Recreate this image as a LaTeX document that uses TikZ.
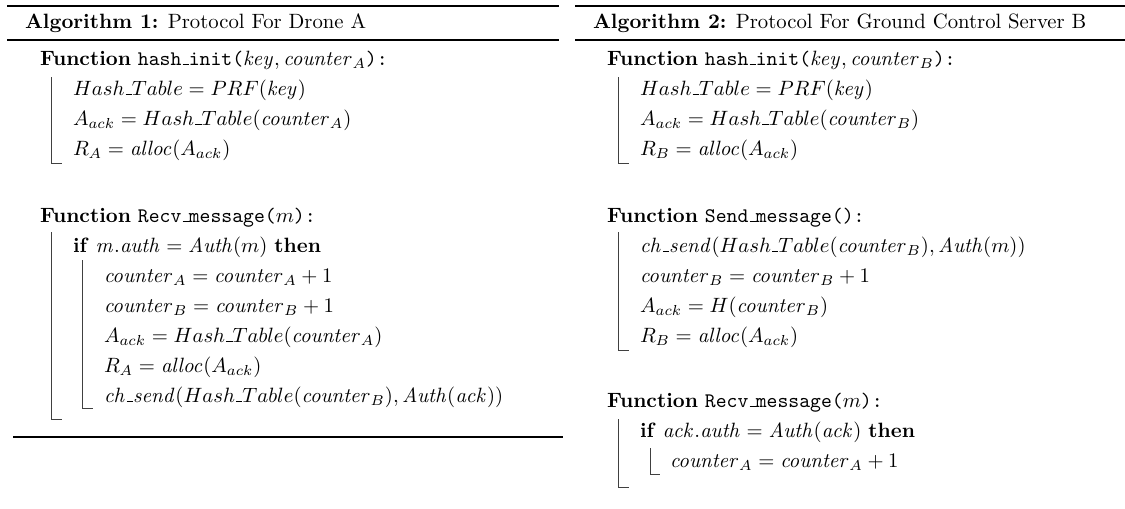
\documentclass[tikz,border=0pt]{standalone}
\usepackage{amsmath}
\tikzset{
  txt/.style={anchor=base west, inner sep=0pt, outer sep=0pt, font=\fontsize{10}{12}\selectfont},
  rulesty/.style={line width=0.85pt, black},
  brk/.style={line width=0.45pt, black!75},
}
\newcommand{\usc}{\leavevmode\kern.06em\vbox{\hrule width.3em}}
\newcommand{\HT}{Hash\mbox{\usc}Table}
\newcommand{\ctr}{\mathit{counter}}
\newcommand{\chs}{\mathit{ch}\mbox{\usc}\mathit{send}}
\begin{document}
\begin{tikzpicture}[x=0.483pt,y=-0.483pt]
\useasboundingbox (0,0) rectangle (1125,508);
% rules
\draw[rulesty] (7,6) -- (559,6);
\draw[rulesty] (7,40) -- (559,40);
\draw[rulesty] (13,437) -- (563,437);
\draw[rulesty] (575,6) -- (1125,6);
\draw[rulesty] (575,40) -- (1125,40);
% ---------- Algorithm 1
\node[txt] (t1) at (25,28) {\textbf{Algorithm 1:} Protocol For Drone A};
\node[txt] (f1) at (40,65) {\textbf{Function} \texttt{hash\usc init(}$\mathit{key},\ctr_A$\texttt{):}};
\node[txt] (a1) at (73,95) {$\HT = PRF(\mathit{key})$};
\node[txt] (a2) at (73,125) {$A_{ack} = \HT(\ctr_A)$};
\node[txt] (a3) at (73,155) {$R_A = \mathit{alloc}(A_{ack})$};
\draw[brk] (51,77) |- (62,163);
\node[txt] (f2) at (40,222) {\textbf{Function} \texttt{Recv\usc message(}$m$\texttt{):}};
\node[txt] (b1) at (73,252) {\textbf{if} $\mathit{m.auth} = \mathit{Auth}(m)$ \textbf{then}};
\node[txt] (b2) at (104,282) {$\ctr_A = \ctr_A + 1$};
\node[txt] (b3) at (104,312) {$\ctr_B = \ctr_B + 1$};
\node[txt] (b4) at (104,342) {$A_{ack} = \HT(\ctr_A)$};
\node[txt] (b5) at (104,372) {$R_A = \mathit{alloc}(A_{ack})$};
\node[txt] (b6) at (104,402) {$\chs(\HT(\ctr_B), \mathit{Auth}(\mathit{ack}))$};
\draw[brk] (51,232) |- (62,419);
\draw[brk] (82,260) |- (93,408);
% ---------- Algorithm 2
\node[txt] (t2) at (593,28) {\textbf{Algorithm 2:} Protocol For Ground Control Server B};
\node[txt] (g1) at (607,65) {\textbf{Function} \texttt{hash\usc init(}$\mathit{key},\ctr_B$\texttt{):}};
\node[txt] (c1) at (640,95) {$\HT = PRF(\mathit{key})$};
\node[txt] (c2) at (640,125) {$A_{ack} = \HT(\ctr_B)$};
\node[txt] (c3) at (640,155) {$R_B = \mathit{alloc}(A_{ack})$};
\draw[brk] (618,77) |- (629,163);
\node[txt] (g2) at (607,222) {\textbf{Function} \texttt{Send\usc message():}};
\node[txt] (d1) at (640,252) {$\chs(\HT(\ctr_B), \mathit{Auth}(m))$};
\node[txt] (d2) at (640,282) {$\ctr_B = \ctr_B + 1$};
\node[txt] (d3) at (640,312) {$A_{ack} = H(\ctr_B)$};
\node[txt] (d4) at (640,342) {$R_B = \mathit{alloc}(A_{ack})$};
\draw[brk] (618,232) |- (629,350);
\node[txt] (g3) at (607,407) {\textbf{Function} \texttt{Recv\usc message(}$m$\texttt{):}};
\node[txt] (e1) at (640,437) {\textbf{if} $\mathit{ack.auth} = \mathit{Auth}(\mathit{ack})$ \textbf{then}};
\node[txt] (e2) at (670,467) {$\ctr_A = \ctr_A + 1$};
\draw[brk] (618,419) |- (629,487);
\draw[brk] (650,448) |- (660,474);
\end{tikzpicture}
\end{document}
